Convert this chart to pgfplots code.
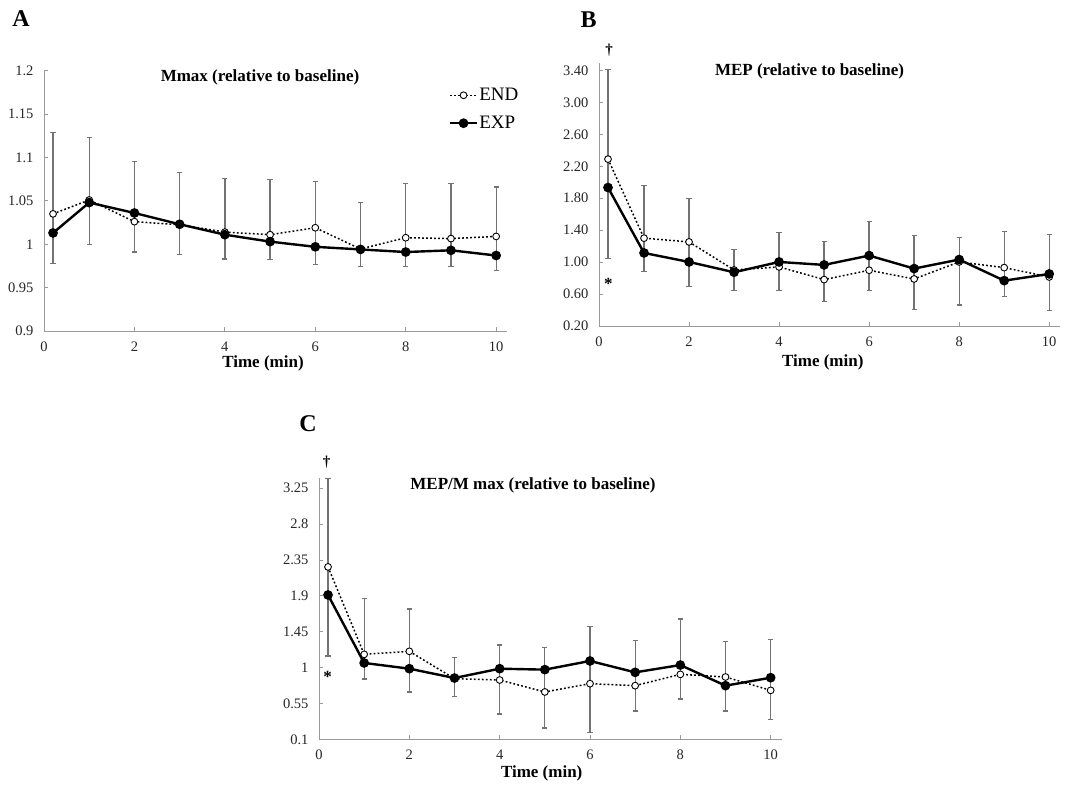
\documentclass[border=0pt]{standalone}
\usepackage{fontspec}
\setmainfont{Liberation Serif}
\usepackage{pgfplots}
\pgfplotsset{compat=1.18}
\usepackage{pgfplotstable}

\pgfplotstableread{
x end exp hi lo
0.2 1.035 1.013 1.129 0.978
1 1.051 1.048 1.123 0.9995
2 1.026 1.036 1.0955 0.991
3 1.0225 1.023 1.083 0.988
4 1.014 1.011 1.076 0.983
5 1.011 1.003 1.075 0.982
6 1.019 0.997 1.0725 0.977
7 0.9945 0.994 1.048 0.9745
8 1.0075 0.991 1.070 0.974
9 1.0065 0.993 1.0705 0.9745
10 1.009 0.987 1.066 0.970
}\tabA

\pgfplotstableread{
x end exp hi lo
0.2 2.29 1.934 3.41 1.048
1 1.30 1.115 1.963 0.881
2 1.253 1.002 1.796 0.693
3 0.902 0.873 1.161 0.639
4 0.94 1.002 1.374 0.639
5 0.781 0.965 1.257 0.509
6 0.898 1.082 1.504 0.647
7 0.789 0.919 1.332 0.401
8 1.002 1.032 1.307 0.463
9 0.931 0.768 1.382 0.568
10 0.814 0.852 1.341 0.392
}\tabB

\pgfplotstableread{
x end exp hi lo
0.2 2.263 1.911 3.367 1.145
1 1.166 1.058 1.865 0.857
2 1.204 0.986 1.735 0.694
3 0.861 0.869 1.124 0.639
4 0.844 0.986 1.283 0.417
5 0.694 0.974 1.254 0.242
6 0.798 1.083 1.518 0.187
7 0.773 0.940 1.342 0.455
8 0.915 1.032 1.610 0.606
9 0.882 0.773 1.329 0.455
10 0.714 0.873 1.355 0.350
}\tabC

\pgfplotsset{
  myaxis/.style={
    scale only axis,
    axis lines*=left,
    axis line style={draw=black!40, line width=0.9pt, -},
    xmin=0, xmax=10.24,
    xtick={0,2,4,6,8,10},
    tick align=inside,
    major tick length=4pt,
    every tick/.style={draw=black!40, line width=0.9pt},
    tick label style={font=\fontsize{14.5}{16}\selectfont, text=black!85},
    /pgf/number format/assume math mode=true,
    xticklabel style={yshift=-7pt},
    yticklabel style={xshift=-7pt},
    clip=false,
  },
  endstyle/.style={black, line width=1.5pt, dash pattern=on 1.8pt off 2.2pt,
    mark=*, mark size=3.4pt, mark options={solid, fill=white, draw=black, line width=0.9pt}},
  expstyle/.style={black, line width=2.4pt, mark=*, mark size=3.6pt,
    mark options={solid, fill=black}},
  ebars/.style={draw=none, mark=none, forget plot,
    error bars/y dir=both, error bars/y explicit,
    error bars/error bar style={draw=black!55, line width=1.3pt, solid},
    error bars/error mark options={rotate=90, draw=black!55, mark size=2.6pt, line width=1.1pt}},
}

\begin{document}
\begin{tikzpicture}
\path[use as bounding box] (0pt,0pt) rectangle (1082pt,785pt);

% Panel A
\begin{axis}[myaxis, at={(44pt,454pt)}, anchor=south west,
  width=463pt, height=260.3pt,
  ymin=0.9, ymax=1.2,
  ytick={0.9,0.95,1,1.05,1.1,1.15,1.2},
  legend image code/.code={\draw[mark repeat=2,mark phase=2,#1] plot coordinates {(0pt,0pt) (13.5pt,0pt) (27pt,0pt)};},
  legend style={draw=none, fill=none, font=\fontsize{19}{21}\selectfont,
    at={(0.874,0.937)}, anchor=north west, inner sep=0pt, row sep=12pt,
    nodes={inner sep=1pt}},
  legend cell align=left,
]
\addplot[ebars] table[x=x, y=exp, y error plus expr=\thisrow{hi}-\thisrow{exp}, y error minus expr=\thisrow{exp}-\thisrow{lo}] {\tabA};
\addplot[endstyle] table[x=x, y=end] {\tabA};
\addplot[expstyle] table[x=x, y=exp] {\tabA};
\legend{END, EXP}
\end{axis}

% Panel B
\begin{axis}[myaxis, at={(599pt,459pt)}, anchor=south west,
  width=461pt, height=262.7pt,
  ymin=0.2, ymax=3.49,
  ytick={0.2,0.6,1.0,1.4,1.8,2.2,2.6,3.0,3.4},
  yticklabel style={/pgf/number format/fixed, /pgf/number format/fixed zerofill, /pgf/number format/precision=2},
]
\addplot[ebars] table[x=x, y=exp, y error plus expr=\thisrow{hi}-\thisrow{exp}, y error minus expr=\thisrow{exp}-\thisrow{lo}] {\tabB};
\addplot[endstyle] table[x=x, y=end] {\tabB};
\addplot[expstyle] table[x=x, y=exp] {\tabB};
\end{axis}

% Panel C
\begin{axis}[myaxis, at={(319pt,45.7pt)}, anchor=south west,
  width=462.5pt, height=261pt,
  ymin=0.1, ymax=3.375,
  ytick={0.1,0.55,1,1.45,1.9,2.35,2.8,3.25},
]
\addplot[ebars] table[x=x, y=exp, y error plus expr=\thisrow{hi}-\thisrow{exp}, y error minus expr=\thisrow{exp}-\thisrow{lo}] {\tabC};
\addplot[endstyle] table[x=x, y=end] {\tabC};
\addplot[expstyle] table[x=x, y=exp] {\tabC};
\end{axis}

% Panel letters
\node[font=\fontsize{24}{26}\selectfont\bfseries] at (21pt,766pt) {A};
\node[font=\fontsize{24}{26}\selectfont\bfseries] at (588.5pt,765pt) {B};
\node[font=\fontsize{24}{26}\selectfont\bfseries] at (308pt,361.5pt) {C};

% Titles
\node[font=\fontsize{17}{19}\selectfont\bfseries] at (260pt,708pt) {Mmax (relative to baseline)};
\node[font=\fontsize{17}{19}\selectfont\bfseries] at (809.5pt,714pt) {MEP (relative to baseline)};
\node[font=\fontsize{17}{19}\selectfont\bfseries] at (533pt,300pt) {MEP/M max (relative to baseline)};

% x labels
\node[font=\fontsize{17}{19}\selectfont\bfseries] at (263pt,422pt) {Time (min)};
\node[font=\fontsize{17}{19}\selectfont\bfseries] at (822.8pt,423pt) {Time (min)};
\node[font=\fontsize{17}{19}\selectfont\bfseries] at (541.7pt,11.7pt) {Time (min)};

% significance marks
\node[font=\fontsize{15}{17}\selectfont\bfseries] at (609pt,735pt) {†};
\node[font=\fontsize{15}{17}\selectfont\bfseries] at (326.7pt,323.3pt) {†};
\node[font=\fontsize{17}{19}\selectfont\bfseries] at (608.3pt,501pt) {*};
\node[font=\fontsize{17}{19}\selectfont\bfseries] at (327.7pt,108pt) {*};
\end{tikzpicture}
\end{document}
